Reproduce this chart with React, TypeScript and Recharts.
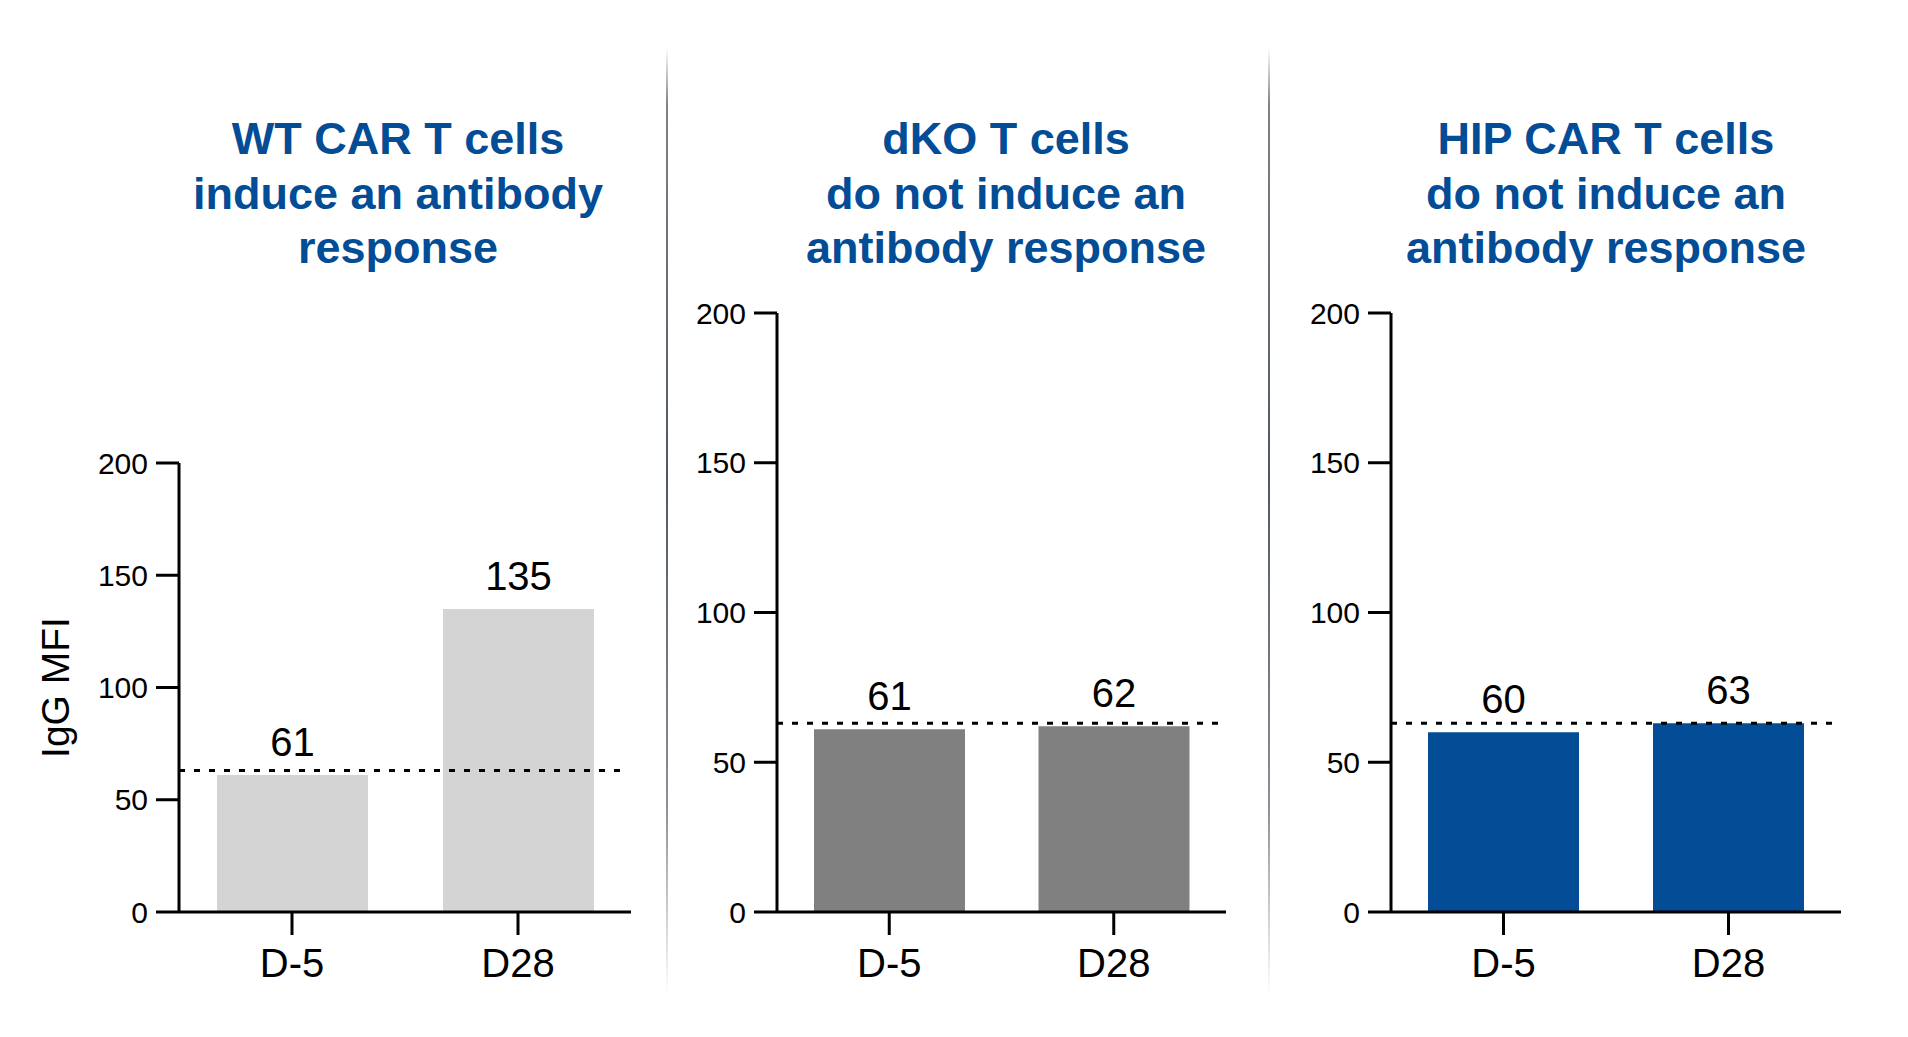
import React from 'react';
import { BarChart, Bar, XAxis, YAxis, ReferenceLine, LabelList } from 'recharts';

const DAYS = ['D-5', 'D28'];
const WT_VALUES = [61, 135];
const DKO_VALUES = [61, 62];
const HIP_VALUES = [60, 63];
const Y_TICKS = [0, 50, 100, 150, 200];
const THRESHOLD = 63;

const WT_TITLE = ['WT CAR T cells', 'induce an antibody', 'response'];
const DKO_TITLE = ['dKO T cells', 'do not induce an', 'antibody response'];
const HIP_TITLE = ['HIP CAR T cells', 'do not induce an', 'antibody response'];

const FONT = '"Liberation Sans", Arial, Helvetica, sans-serif';
const BLUE = '#034C96';

type PanelProps = {
  values: number[];
  color: string;
  title: string[];
  left: number;
  width: number;
  axisWidth: number;
  plotTop: number;
  rightGap: number;
  titleCenter: number;
  yLabel?: string;
};

// dotted threshold line, stops a little short of the x axis end
function DashedLine(props: any) {
  const { x1, y1, x2, y2 } = props;
  return (
    <line x1={x1} y1={y1} x2={x2 - 5} y2={y2} stroke="#000" strokeWidth={3} strokeDasharray="6 9" />
  );
}

function Panel({ values, color, title, left, width, axisWidth, plotTop, rightGap, titleCenter, yLabel }: PanelProps) {
  const data = DAYS.map((day, i) => ({ day, value: values[i] }));
  return (
    <>
      <div
        style={{
          position: 'absolute',
          left: titleCenter - 300,
          top: 112,
          width: 600,
          textAlign: 'center',
          fontFamily: FONT,
          fontWeight: 700,
          fontSize: 45,
          lineHeight: '54.7px',
          color: BLUE,
        }}
      >
        {title.map((t) => (
          <div key={t}>{t}</div>
        ))}
      </div>
      <div style={{ position: 'absolute', left, top: 0 }}>
        <BarChart
          width={width}
          height={1037}
          data={data}
          margin={{ top: plotTop, right: rightGap, bottom: 0, left: 0 }}
        >
          <XAxis
            dataKey="day"
            height={125}
            axisLine={{ stroke: '#000', strokeWidth: 3 }}
            tickLine={{ stroke: '#000', strokeWidth: 3 }}
            tickSize={23}
            tickMargin={14}
            tick={{ fontFamily: FONT, fontSize: 40, fill: '#000' }}
          />
          <YAxis
            width={axisWidth}
            domain={[0, 200]}
            ticks={Y_TICKS}
            interval={0}
            axisLine={{ stroke: '#000', strokeWidth: 3 }}
            tickLine={{ stroke: '#000', strokeWidth: 3 }}
            tickSize={23}
            tickMargin={8}
            tick={{ fontFamily: FONT, fontSize: 30, fill: '#000' }}
            label={
              yLabel
                ? {
                    value: yLabel,
                    content: (p: any) => {
                      const vb = p.viewBox;
                      const cx = vb.x + 55;
                      const cy = vb.y + vb.height / 2;
                      return (
                        <text
                          x={cx}
                          y={cy}
                          transform={`rotate(-90 ${cx} ${cy})`}
                          textAnchor="middle"
                          dominantBaseline="central"
                          fontFamily={FONT}
                          fontSize={39}
                          fill="#000"
                        >
                          {yLabel}
                        </text>
                      );
                    },
                  }
                : undefined
            }
          />
          <Bar dataKey="value" fill={color} barSize={151} isAnimationActive={false}>
            <LabelList
              dataKey="value"
              position="top"
              offset={19}
              style={{ fontFamily: FONT, fontSize: 40, fill: '#000' }}
            />
          </Bar>
          <ReferenceLine y={THRESHOLD} shape={DashedLine} />
        </BarChart>
      </div>
    </>
  );
}

function Divider({ x }: { x: number }) {
  return (
    <div
      style={{
        position: 'absolute',
        left: x - 1,
        top: 48,
        width: 2,
        height: 948,
        background:
          'linear-gradient(to bottom, rgba(120,120,120,0) 0%, #7d8288 6%, #4f5862 45%, #8a9098 80%, rgba(200,200,200,0) 100%)',
      }}
    />
  );
}

export default function App() {
  return (
    <div
      style={{
        position: 'absolute',
        left: 0,
        top: 0,
        width: 1908,
        height: 1037,
        background: '#fff',
        overflow: 'hidden',
      }}
    >
      <Panel
        values={WT_VALUES}
        color="#D4D4D4"
        title={WT_TITLE}
        left={0}
        width={667}
        axisWidth={179}
        plotTop={463}
        rightGap={36}
        titleCenter={398}
        yLabel="IgG MFI"
      />
      <Panel
        values={DKO_VALUES}
        color="#808080"
        title={DKO_TITLE}
        left={667}
        width={603}
        axisWidth={110}
        plotTop={313}
        rightGap={44}
        titleCenter={1006}
      />
      <Panel
        values={HIP_VALUES}
        color={BLUE}
        title={HIP_TITLE}
        left={1270}
        width={638}
        axisWidth={121}
        plotTop={313}
        rightGap={67}
        titleCenter={1606}
      />
      <Divider x={667} />
      <Divider x={1269} />
    </div>
  );
}
